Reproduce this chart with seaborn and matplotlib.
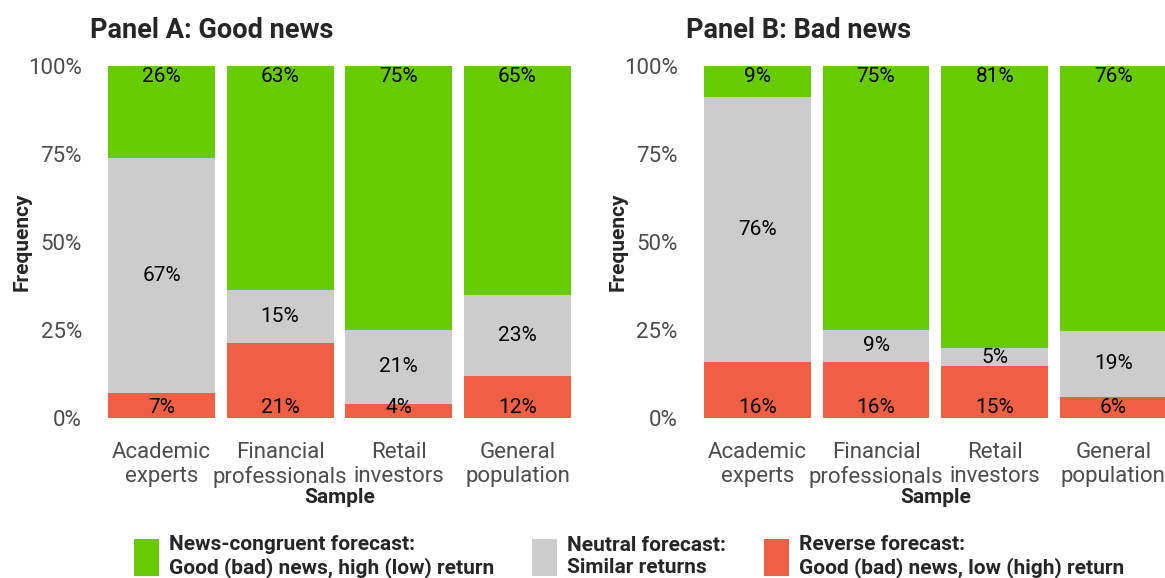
import pandas as pd
import matplotlib.pyplot as plt
from matplotlib.patches import Patch
import seaborn as sns

sns.set_theme(style="white")
plt.rcParams['font.family'] = ['Roboto', 'DejaVu Sans']

# Sample groups (x axis)
samples = ["Academic\nexperts", "Financial\nprofessionals", "Retail\ninvestors", "General\npopulation"]

# Shares in percent, as printed on the bars
good_congruent = [26, 63, 75, 65]
good_neutral = [67, 15, 21, 23]
good_reverse = [7, 21, 4, 12]

bad_congruent = [9, 75, 81, 76]
bad_neutral = [76, 9, 5, 19]
bad_reverse = [16, 16, 15, 6]

panel_titles = ["Panel A: Good news", "Panel B: Bad news"]
legend_labels = ["News-congruent forecast:\nGood (bad) news, high (low) return",
                 "Neutral forecast:\nSimilar returns",
                 "Reverse forecast:\nGood (bad) news, low (high) return"]
colors = ["#66CC00", "#CCCCCC", "#EE5F44"]

tick_grey = "#4D4D4D"

fig = plt.figure(figsize=(11.65, 5.78), dpi=100)
ax_a = fig.add_axes([0.0775, 0.2768, 0.4278, 0.609])
ax_b = fig.add_axes([0.589, 0.2768, 0.4278, 0.609])

panels = [
    (ax_a, good_congruent, good_neutral, good_reverse),
    (ax_b, bad_congruent, bad_neutral, bad_reverse),
]

for (ax, cong, neu, rev), title in zip(panels, panel_titles):
    df = pd.DataFrame({"Sample": samples, "congruent": cong, "neutral": neu, "reverse": rev})
    total = df["congruent"] + df["neutral"] + df["reverse"]
    # scale so each bar adds up to 100%
    for col in ["congruent", "neutral", "reverse"]:
        df[col + "_s"] = df[col] / total * 100
    df["top_all"] = df["congruent_s"] + df["neutral_s"] + df["reverse_s"]
    df["top_neu"] = df["neutral_s"] + df["reverse_s"]
    df["top_rev"] = df["reverse_s"]

    # stacked bars: draw from the full height down
    for col, c in zip(["top_all", "top_neu", "top_rev"], colors):
        sns.barplot(data=df, x="Sample", y=col, color=c, saturation=1,
                    width=0.9, linewidth=0, ax=ax)

    for i, row in df.iterrows():
        ax.text(i, row["top_all"] - 3.0, f"{row['congruent']}%", ha="center", va="center",
                fontsize=15, color="black")
        ax.text(i, row["reverse_s"] + row["neutral_s"] / 2, f"{row['neutral']}%",
                ha="center", va="center", fontsize=15, color="black")
        ax.text(i, 3.0, f"{row['reverse']}%", ha="center", va="center",
                fontsize=15, color="black")

    ax.set_xlim(-0.6, 3.6)
    ax.set_ylim(0, 100)
    ax.set_yticks([0, 25, 50, 75, 100])
    ax.set_yticklabels(["0%", "25%", "50%", "75%", "100%"])
    ax.tick_params(axis="y", length=0, pad=6, labelsize=16, labelcolor=tick_grey)
    ax.tick_params(axis="x", length=0, pad=17, labelsize=16, labelcolor=tick_grey)
    for lab in ax.get_xticklabels():
        lab.set_linespacing(1.18)
    ax.set_xlabel("Sample", fontsize=15, fontweight="bold", labelpad=0)
    ax.xaxis.set_label_coords(0.5, -0.2)
    ax.set_ylabel("Frequency", fontsize=15, fontweight="bold")
    ax.yaxis.set_label_coords(-0.117, 0.5)
    ax.set_title(title, loc="left", fontsize=19.5, fontweight="bold", pad=20)
    sns.despine(ax=ax, left=True, bottom=True)
    ax.set_facecolor("white")

handles = [Patch(facecolor=c, edgecolor="none") for c in colors]
fig.legend(handles, legend_labels, loc="upper center", bbox_to_anchor=(0.54, 1 - 535 / 578),
           ncol=3, frameon=False, prop={"weight": "bold", "size": 15},
           handlelength=1.2, handleheight=2.3, handletextpad=0.5,
           columnspacing=1.8, borderpad=0, borderaxespad=0)

fig.savefig("out.png", dpi=100, facecolor="white")
